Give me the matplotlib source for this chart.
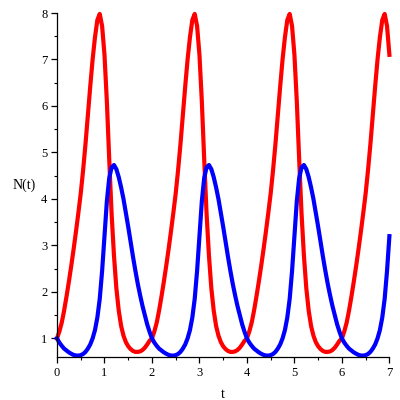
import matplotlib
matplotlib.use("Agg")
import matplotlib.pyplot as plt
from matplotlib.ticker import MultipleLocator

t = [round(0.05 * i, 2) for i in range(141)]

prey = [
    1.00, 1.15, 1.34, 1.60, 1.90, 2.22, 2.56, 2.92, 3.30, 3.70,
    4.12, 4.62, 5.18, 5.80, 6.42, 7.00, 7.48, 7.85, 7.98, 7.72,
    7.10, 6.10, 4.85, 3.68, 2.78, 2.08, 1.60, 1.27, 1.06, 0.92,
    0.83, 0.77, 0.73, 0.71, 0.71, 0.72, 0.75, 0.80, 0.87, 0.95,
    1.00, 1.15, 1.34, 1.60, 1.90, 2.22, 2.56, 2.92, 3.30, 3.70,
    4.12, 4.62, 5.18, 5.80, 6.42, 7.00, 7.48, 7.85, 7.98, 7.72,
    7.10, 6.10, 4.85, 3.68, 2.78, 2.08, 1.60, 1.27, 1.06, 0.92,
    0.83, 0.77, 0.73, 0.71, 0.71, 0.72, 0.75, 0.80, 0.87, 0.95,
    1.00, 1.15, 1.34, 1.60, 1.90, 2.22, 2.56, 2.92, 3.30, 3.70,
    4.12, 4.62, 5.18, 5.80, 6.42, 7.00, 7.48, 7.85, 7.98, 7.72,
    7.10, 6.10, 4.85, 3.68, 2.78, 2.08, 1.60, 1.27, 1.06, 0.92,
    0.83, 0.77, 0.73, 0.71, 0.71, 0.72, 0.75, 0.80, 0.87, 0.95,
    1.00, 1.15, 1.34, 1.60, 1.90, 2.22, 2.56, 2.92, 3.30, 3.70,
    4.12, 4.62, 5.18, 5.80, 6.42, 7.00, 7.48, 7.85, 7.98, 7.72,
    7.10,
]

predator = [
    1.00, 0.91, 0.84, 0.78, 0.74, 0.70, 0.67, 0.645, 0.632, 0.63,
    0.64, 0.665, 0.71, 0.78, 0.87, 1.00, 1.18, 1.45, 1.85, 2.45,
    3.20, 3.95, 4.45, 4.68, 4.73, 4.64, 4.47, 4.25, 4.00, 3.70,
    3.40, 3.08, 2.76, 2.46, 2.18, 1.93, 1.70, 1.50, 1.30, 1.14,
    1.00, 0.91, 0.84, 0.78, 0.74, 0.70, 0.67, 0.645, 0.632, 0.63,
    0.64, 0.665, 0.71, 0.78, 0.87, 1.00, 1.18, 1.45, 1.85, 2.45,
    3.20, 3.95, 4.45, 4.68, 4.73, 4.64, 4.47, 4.25, 4.00, 3.70,
    3.40, 3.08, 2.76, 2.46, 2.18, 1.93, 1.70, 1.50, 1.30, 1.14,
    1.00, 0.91, 0.84, 0.78, 0.74, 0.70, 0.67, 0.645, 0.632, 0.63,
    0.64, 0.665, 0.71, 0.78, 0.87, 1.00, 1.18, 1.45, 1.85, 2.45,
    3.20, 3.95, 4.45, 4.68, 4.73, 4.64, 4.47, 4.25, 4.00, 3.70,
    3.40, 3.08, 2.76, 2.46, 2.18, 1.93, 1.70, 1.50, 1.30, 1.14,
    1.00, 0.91, 0.84, 0.78, 0.74, 0.70, 0.67, 0.645, 0.632, 0.63,
    0.64, 0.665, 0.71, 0.78, 0.87, 1.00, 1.18, 1.45, 1.85, 2.45,
    3.20,
]

x_ticks = [0, 1, 2, 3, 4, 5, 6, 7]
y_ticks = [1, 2, 3, 4, 5, 6, 7, 8]

plt.rcParams['font.family'] = ['Liberation Serif', 'DejaVu Serif']

fig = plt.figure(figsize=(4, 4), dpi=100)
ax = fig.add_axes([0.1425, 0.1075, 0.831, 0.86])

ax.plot(t, prey, color='#ff0000', lw=3.0, solid_joinstyle='round', clip_on=False)
ax.plot(t, predator, color='#0000ff', lw=3.0, solid_joinstyle='round', clip_on=False)

ax.set_xlim(0, 7)
ax.set_ylim(0.6, 8.0)

for s in ['top', 'right']:
    ax.spines[s].set_visible(False)
for s in ['left', 'bottom']:
    ax.spines[s].set_linewidth(0.9)

ax.set_xticks(x_ticks)
ax.set_yticks(y_ticks)
ax.xaxis.set_minor_locator(MultipleLocator(0.5))
ax.yaxis.set_minor_locator(MultipleLocator(0.5))
ax.tick_params(which='major', direction='out', length=4, width=0.9,
               labelsize=9, pad=3)
ax.tick_params(which='minor', direction='out', length=2.5, width=0.8)

ax.set_xlabel('t', fontsize=10)
ax.xaxis.set_label_coords(0.5, -0.09)
ax.set_ylabel('N(t)', fontsize=10, rotation=0, ha='center', va='center')
ax.yaxis.set_label_coords(-0.1, 0.5)

fig.savefig('out.png', dpi=100)
